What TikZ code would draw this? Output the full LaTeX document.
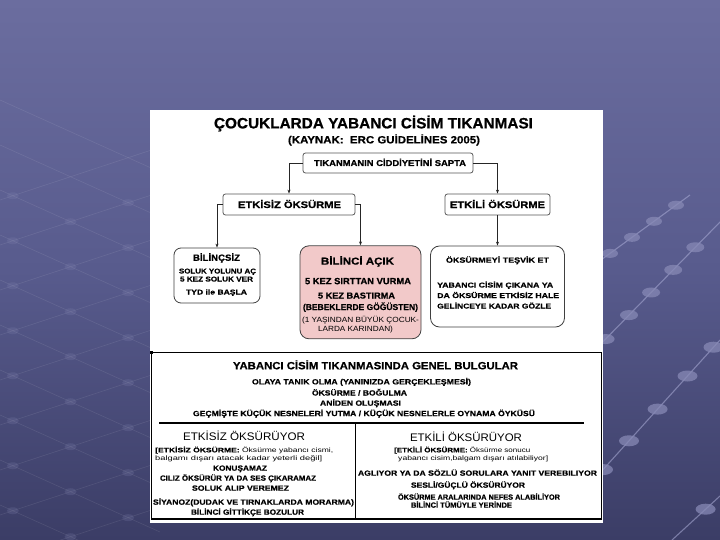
\documentclass[tikz,border=0pt]{standalone}
\usepackage{fontspec}
\setmainfont{Liberation Sans}
\newfontfamily\hvfont{Liberation Sans Bold}[FakeBold=0.6]
\usetikzlibrary{arrows.meta,calc}
\newcommand\fx[2]{\resizebox{#1pt}{\height}{#2}}
\definecolor{bgtop}{HTML}{6B6D9F}
\definecolor{bgmid}{HTML}{585B8D}
\definecolor{bgbot}{HTML}{3B3D66}
\definecolor{pinkfill}{HTML}{F2C9C9}
\definecolor{boxline}{HTML}{555555}
\definecolor{decoline}{HTML}{A4A6D0}
\definecolor{decodot}{HTML}{8789B5}
\tikzset{
  txb/.style={inner sep=0pt, anchor=base, font=\fontsize{#1}{#1}\selectfont\hvfont},
  txr/.style={inner sep=0pt, anchor=base, font=\fontsize{#1}{#1}\selectfont},
  txbl/.style={txb=#1, anchor=base west},
  txrl/.style={txr=#1, anchor=base west},
  topbox/.style={draw=boxline, line width=0.8pt, fill=white, rounded corners=2.5pt, inner sep=0pt},
  lowbox/.style={draw=black!75, line width=0.8pt, fill=white, rounded corners=9pt, inner sep=0pt},
  arr/.style={draw=black!85, line width=0.7pt, -{Stealth[length=4pt,width=3pt]}},
}
\begin{document}
\begin{tikzpicture}[x=1pt,y=-1pt]
\useasboundingbox (0,0) rectangle (720,540);
% background
\fill[bgtop] (0,0) rectangle (720,540);
\shade[top color=bgtop, bottom color=bgbot, middle color=bgmid] (0,0) rectangle (720,540);
% left lattice
\begin{scope}[draw=white, opacity=0.09, line width=0.6pt]
  \foreach \i in {0,...,9} {
    \draw (0,{200+45*\i}) -- (160,{200+45*\i-52.8});
    \draw (0,{100+45*\i}) -- (160,{100+45*\i+72});
  }
\end{scope}
\begin{scope}[fill=decodot, opacity=0.2]
  \foreach \i in {0,...,9} {
    \foreach \j in {0,...,9} {
      \pgfmathsetmacro\xx{((200+45*\i)-(100+45*\j))/0.78}
      \pgfmathsetmacro\yy{200+45*\i-0.33*\xx}
      \pgfmathparse{(\xx>3)&&(\xx<150)&&(\yy>180)?1:0}
      \ifnum\pgfmathresult=1 \fill (\xx,\yy) ellipse (6pt and 3.5pt);\fi
    }
  }
\end{scope}
% right decorative lines
\begin{scope}[draw=decoline, line width=1.1pt, opacity=0.6]
  \draw (590,268) -- (690,195);
  \draw (590,355) -- (720,222);
  \draw (590,484) -- (720,340);
  \draw (672,540) -- (720,496);
\end{scope}
\begin{scope}[fill=decodot, opacity=0.75]
  \foreach \t in {0.2,0.42,0.64,0.86} \fill ($(590,268)!\t!(690,195)$) ellipse (8pt and 4.5pt);
  \foreach \t in {0.12,0.3,0.47,0.64,0.81} \fill ($(590,355)!\t!(720,222)$) ellipse (9pt and 5pt);
  \foreach \t in {0.1,0.3,0.52,0.75,0.95} \fill ($(590,484)!\t!(720,340)$) ellipse (10pt and 5.5pt);
  \fill ($(672,540)!0.7!(720,496)$) ellipse (10pt and 5.5pt);
\end{scope}
% white panel
\fill[white] (150,110) rectangle (603,523);
% title
\node[txb=15] (title) at (373.5,128.4) {\fx{319}{ÇOCUKLARDA YABANCI CİSİM TIKANMASI}};
\node[txb=10.5] (src) at (384,143.4) {\fx{192}{(KAYNAK:\ \ ERC GUİDELİNES 2005)}};
% top boxes
\node[topbox, minimum width=170pt, minimum height=20pt] (tik) at (388,163) {};
\node[txb=8.5] (tiktxt) at (390,166) {\fx{152}{TIKANMANIN CİDDİYETİNİ SAPTA}};
\node[topbox, minimum width=132pt, minimum height=21pt] (etkisiz) at (289,204.5) {};
\node[txb=9.5] (etkisiztxt) at (289.5,208) {\fx{103}{ETKİSİZ ÖKSÜRME}};
\node[topbox, minimum width=105pt, minimum height=21pt] (etkili) at (497.5,204.5) {};
\node[txb=9.5] (etkilitxt) at (497.5,208) {\fx{95}{ETKİLİ ÖKSÜRME}};
% lower boxes
\node[lowbox, rounded corners=7pt, minimum width=86pt, minimum height=55pt] (bilincsiz) at (217,275.5) {};
\node[lowbox, fill=pinkfill, minimum width=121pt, minimum height=93pt] (acik) at (360.5,292.3) {};
\node[lowbox, minimum width=134pt, minimum height=81pt] (tesvik) at (497.5,286.5) {};
% connectors
\draw[arr] (tik.west) -| (etkisiz.north);
\draw[arr] (tik.east) -| (etkili.north);
\draw[arr] (etkisiz.west) -| (bilincsiz.north);
\draw[arr] (etkisiz.east) -| (acik.north);
\draw[arr] (etkili.south) -- (tesvik.north);
% bilincsiz text
\node[txb=9] (b1) at (216.5,260.8) {\fx{47}{BİLİNÇSİZ}};
\node[txb=7] (b2) at (217.5,273.5) {\fx{77}{SOLUK YOLUNU AÇ}};
\node[txb=7] (b3) at (216.5,281.5) {\fx{73}{5 KEZ SOLUK VER}};
\node[txb=7] (b4) at (216.5,294.5) {\fx{61}{TYD ile BAŞLA}};
% acik text
\node[txb=10] (a1) at (357.5,264.6) {\fx{73}{BİLİNCİ AÇIK}};
\node[txb=9] (a2) at (358,284.2) {\fx{106}{5 KEZ SIRTTAN VURMA}};
\node[txb=8.5] (a3) at (356.5,298.5) {\fx{77}{5 KEZ BASTIRMA}};
\node[txb=8.5] (a4) at (360.5,310) {\fx{115}{(BEBEKLERDE GÖĞÜSTEN)}};
\node[txr=7.5] (a5) at (360.5,322.7) {\fx{117}{(1 YAŞINDAN BÜYÜK ÇOCUK-}};
\node[txr=7.5] (a6) at (355.5,331.7) {\fx{75}{LARDA KARINDAN)}};
% tesvik text
\node[txb=7.5] (t1) at (497.5,262.7) {\fx{103}{ÖKSÜRMEYİ TEŞVİK ET}};
\node[txbl=7] (t2) at (437,287.5) {\fx{116}{YABANCI CİSİM ÇIKANA YA}};
\node[txbl=7] (t3) at (437,298) {\fx{122}{DA ÖKSÜRME ETKİSİZ HALE}};
\node[txbl=7] (t4) at (437,308.5) {\fx{114}{GELİNCEYE KADAR GÖZLE}};
% bottom table
\node[draw=black, line width=1pt, minimum width=450pt, minimum height=166pt, inner sep=0pt, anchor=north west] (bulgu) at (151,352) {};
\draw[line width=2pt] (bulgu.south west) -- (bulgu.south east);
\fill[black] (149.5,350.5) rectangle (152.5,353.5);
\draw[line width=1.6pt] (159,423) -- (584,423);
\draw[line width=1pt] (355,423) -- (355,518);
\node[txb=10.5] (g0) at (375.5,369.3) {\fx{285}{YABANCI CİSİM TIKANMASINDA GENEL BULGULAR}};
\node[txb=7.5] (g1) at (361.5,384.4) {\fx{219}{OLAYA TANIK OLMA (YANINIZDA GERÇEKLEŞMESİ)}};
\node[txb=7.5] (g2) at (359.5,395.5) {\fx{95}{ÖKSÜRME / BOĞULMA}};
\node[txb=7.5] (g3) at (360.5,405.7) {\fx{81}{ANİDEN OLUŞMASI}};
\node[txb=7.5] (g4) at (364,416.1) {\fx{342}{GEÇMİŞTE KÜÇÜK NESNELERİ YUTMA / KÜÇÜK NESNELERLE OYNAMA ÖYKÜSÜ}};
% left column
\node[txr=11] (l0) at (244,440.6) {\fx{122}{ETKİSİZ ÖKSÜRÜYOR}};
\node[txrl=6.5] (l1) at (155,452.3) {\fx{178}{{\hvfont [ETKİSİZ ÖKSÜRME:} Öksürme yabancı cismi,}};
\node[txrl=6.5] (l2) at (155,460.3) {\fx{167}{balgamı dışarı atacak kadar yeterli değil]}};
\node[txb=7.5] (l3) at (240,470.7) {\fx{54}{KONUŞAMAZ}};
\node[txb=7.5] (l4) at (238,480.7) {\fx{156}{CILIZ ÖKSÜRÜR YA DA SES ÇIKARAMAZ}};
\node[txb=7.5] (l5) at (240.5,490.7) {\fx{97}{SOLUK ALIP VEREMEZ}};
\node[txb=7.5] (l6) at (253.5,504.7) {\fx{201}{SİYANOZ(DUDAK VE TIRNAKLARDA MORARMA)}};
\node[txb=7.5] (l7) at (247.5,514.7) {\fx{113}{BİLİNCİ GİTTİKÇE BOZULUR}};
% right column
\node[txr=11] (r0) at (466,441.9) {\fx{112}{ETKİLİ ÖKSÜRÜYOR}};
\node[txrl=6.5] (r1) at (394,452.3) {\fx{136}{{\hvfont [ETKİLİ ÖKSÜRME:} Öksürme sonucu}};
\node[txrl=6.5] (r2) at (398,460.3) {\fx{150}{yabancı cisim,balgam dışarı atılabiliyor]}};
\node[txb=7.5] (r3) at (477.5,475.7) {\fx{239}{AGLIYOR YA DA SÖZLÜ SORULARA YANIT VEREBILIYOR}};
\node[txb=7.5] (r4) at (468,487.7) {\fx{114}{SESLİ/GÜÇLÜ ÖKSÜRÜYOR}};
\node[txb=7.5] (r5) at (479,499.7) {\fx{162}{ÖKSÜRME ARALARINDA NEFES ALABİLİYOR}};
\node[txb=7.5] (r6) at (461.5,507.7) {\fx{101}{BİLİNCİ TÜMÜYLE YERİNDE}};
\end{tikzpicture}
\end{document}
